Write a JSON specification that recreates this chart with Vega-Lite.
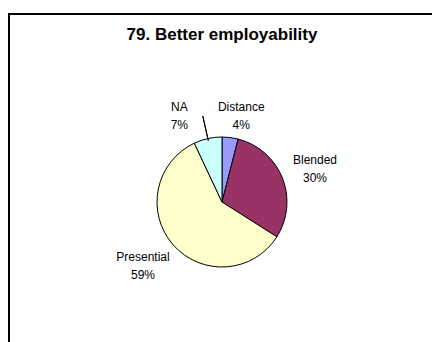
{
  "$schema": "https://vega.github.io/schema/vega-lite/v6.json",
  "width": 426,
  "height": 376,
  "autosize": "none",
  "padding": {"left": 9, "top": 14, "right": -3, "bottom": -48},
  "background": "white",
  "config": {"view": {"stroke": null}},
  "title": {
    "text": "79. Better employability",
    "font": "Liberation Sans",
    "fontSize": 17,
    "fontWeight": "bold",
    "color": "#000000",
    "anchor": "middle",
    "offset": -31
  },
  "datasets": {
    "shares": [
      {"cat": "Distance", "value": 4, "ord": 1, "lbl": "Distance\n4%"},
      {"cat": "Blended", "value": 30, "ord": 2, "lbl": "Blended\n30%"},
      {"cat": "Presential", "value": 59, "ord": 3, "lbl": "Presential\n59%"},
      {"cat": "NA", "value": 7, "ord": 4, "lbl": "NA\n7%"}
    ],
    "frame": [{"name": "frame"}]
  },
  "layer": [
    {
      "data": {"name": "frame"},
      "mark": {"type": "rect", "fill": "transparent", "stroke": "#000000", "strokeWidth": 2},
      "encoding": {}
    },
    {
      "data": {"name": "shares"},
      "mark": {"type": "arc", "outerRadius": 65, "stroke": "#000000", "strokeWidth": 1},
      "encoding": {
        "theta": {"field": "value", "type": "quantitative", "stack": true},
        "order": {"field": "ord", "type": "quantitative"},
        "color": {
          "field": "cat",
          "type": "nominal",
          "scale": {"domain": ["Distance", "Blended", "Presential", "NA"], "range": ["#9999FF", "#993366", "#FFFFCC", "#CCFFFF"]},
          "legend": null
        }
      }
    },
    {
      "data": {"name": "shares"},
      "mark": {"type": "arc", "outerRadius": 88, "innerRadius": 63, "padAngle": 0.8, "fill": "transparent", "stroke": "#000000", "strokeWidth": 1},
      "encoding": {
        "theta": {"field": "value", "type": "quantitative", "stack": true},
        "order": {"field": "ord", "type": "quantitative"},
        "strokeOpacity": {"condition": {"test": "datum.cat === 'NA'", "value": 1}, "value": 0}
      }
    },
    {
      "data": {"name": "shares"},
      "mark": {"type": "text", "radius": 100, "dy": -5, "font": "Liberation Sans", "fontSize": 12, "lineBreak": "\n", "lineHeight": 18, "align": "center", "baseline": "middle", "color": "#000000"},
      "encoding": {
        "theta": {"field": "value", "type": "quantitative", "stack": true},
        "order": {"field": "ord", "type": "quantitative"},
        "text": {"condition": {"test": "datum.cat === 'Blended'", "field": "lbl"}, "value": ""}
      }
    },
    {
      "data": {"name": "shares"},
      "mark": {"type": "text", "radius": 100, "dx": -4, "dy": -11, "font": "Liberation Sans", "fontSize": 12, "lineBreak": "\n", "lineHeight": 18, "align": "center", "baseline": "middle", "color": "#000000"},
      "encoding": {
        "theta": {"field": "value", "type": "quantitative", "stack": true},
        "order": {"field": "ord", "type": "quantitative"},
        "text": {"condition": {"test": "datum.cat === 'Presential'", "field": "lbl"}, "value": ""}
      }
    },
    {
      "data": {"name": "shares"},
      "mark": {"type": "text", "radius": 90, "dx": 8, "dy": -6, "font": "Liberation Sans", "fontSize": 12, "lineBreak": "\n", "lineHeight": 18, "align": "center", "baseline": "middle", "color": "#000000"},
      "encoding": {
        "theta": {"field": "value", "type": "quantitative", "stack": true},
        "order": {"field": "ord", "type": "quantitative"},
        "text": {"condition": {"test": "datum.cat === 'Distance'", "field": "lbl"}, "value": ""}
      }
    },
    {
      "data": {"name": "shares"},
      "mark": {"type": "text", "radius": 90, "dx": -23, "dy": -7, "font": "Liberation Sans", "fontSize": 12, "lineBreak": "\n", "lineHeight": 18, "align": "center", "baseline": "middle", "color": "#000000"},
      "encoding": {
        "theta": {"field": "value", "type": "quantitative", "stack": true},
        "order": {"field": "ord", "type": "quantitative"},
        "text": {"condition": {"test": "datum.cat === 'NA'", "field": "lbl"}, "value": ""}
      }
    }
  ]
}
